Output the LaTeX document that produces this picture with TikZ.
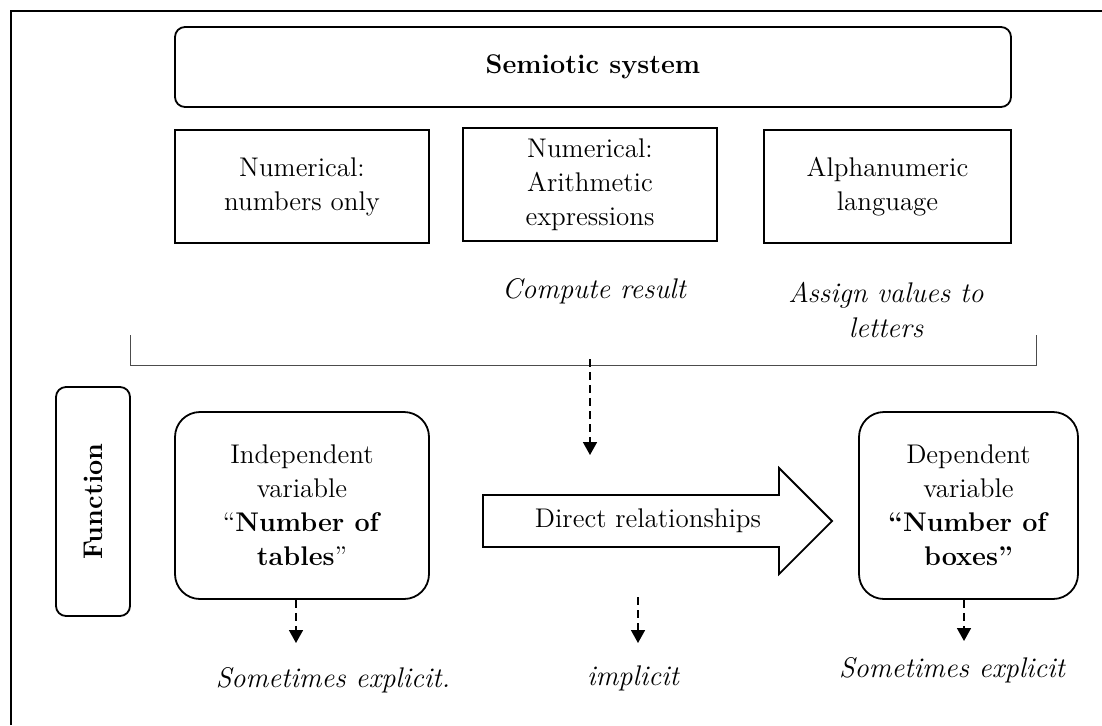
\documentclass[tikz,border=0pt]{standalone}
\usetikzlibrary{arrows.meta}
\newcommand{\fsz}{\fontsize{13.5}{17}\selectfont}
\newcommand{\fszit}{\fontsize{14.2}{17.5}\selectfont\itshape}
\begin{document}
\begin{tikzpicture}[x=0.5pt,y=-0.5pt,line width=0.9pt,
	every node/.style={font=\fsz,align=center,inner sep=1pt},
	plainbox/.style={draw,minimum width=127pt,minimum height=56.5pt},
	varbox/.style={draw,rounded corners=12.5pt,minimum height=93.5pt},
	note/.style={font=\fszit},
	dasharrow/.style={line width=0.8pt,dash pattern=on 4pt off 2.5pt,-{Triangle[width=7pt,length=6.5pt]}}]
		\useasboundingbox (0,0) rectangle (1102,725);
		% frame
		\draw[line width=1pt] (10.5,725) -- (10.5,11) -- (1102,11);
		% Semiotic system
		\node[draw,rounded corners=5pt,minimum width=418pt,minimum height=40pt,font=\fsz\bfseries] (semiotic) at (593,67) {Semiotic system};
		\node[plainbox] (numonly) at (302,186.5) {Numerical:\\numbers only};
		\node[plainbox] (arith) at (590,184.5) {Numerical:\\Arithmetic\\expressions};
		\node[plainbox,minimum width=123.5pt] (alpha) at (887.5,186.5) {Alphanumeric\\language};
		\node[note] (compute) at (594,291) {Compute result};
		\node[note] (assign) at (886,310) {Assign values to\\letters};
		% Bracket
		\draw[line width=0.5pt,black!70] (130,335) -- (130,365) -- (1036,365) -- (1036,335);
		\coordinate (bracemid) at (590,359);
		\coordinate (bracetip) at (590,455);
		\draw[dasharrow] (bracemid) -- (bracetip);
		% Function
		\node[draw,rounded corners=5pt,rotate=90,minimum width=114.5pt,minimum height=37pt,font=\fsz\bfseries] (function) at (93,501.5) {Function};
		\node[varbox,minimum width=127pt] (indep) at (302,505.5) {Independent\\variable\\“\textbf{Number of}\\\textbf{tables}”};
		\node[varbox,minimum width=109.5pt] (dep) at (968.5,505.5) {Dependent\\variable\\\textbf{“Number of}\\\textbf{boxes”}};
		% Direct relationships
		\draw (483,495) -- (779,495) -- (779,468) -- (832,521) -- (779,574) -- (779,547) -- (483,547) -- cycle;
		\node (direct) at (648,521) {Direct relationships};
		% Explicit / implicit
		\coordinate (indeptip) at (296,643);
		\draw[dasharrow] (indep.south -| indeptip) -- (indeptip);
		\node[note] (indepnote) at (333,680) {Sometimes explicit.};
		\coordinate (implfrom) at (638,597);
		\coordinate (impltip) at (638,643);
		\draw[dasharrow] (implfrom) -- (impltip);
		\node[note] (implnote) at (633,678) {implicit};
		\coordinate (deptip) at (964,641);
		\draw[dasharrow] (dep.south -| deptip) -- (deptip);
		\node[note] (depnote) at (952,670) {Sometimes explicit};
\end{tikzpicture}
\end{document}
